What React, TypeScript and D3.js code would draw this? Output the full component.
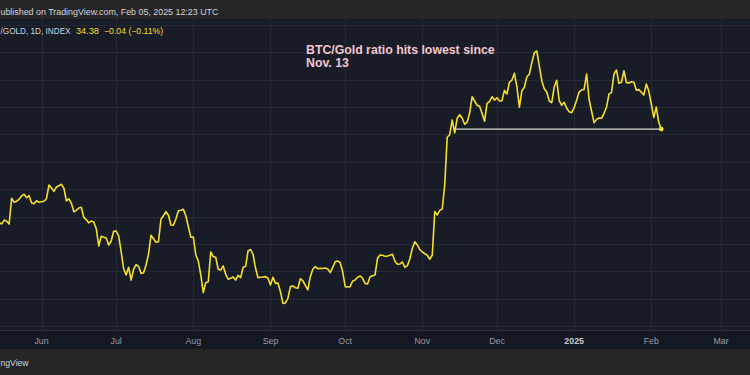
import React from 'react';
import * as d3 from 'd3';

// ---- Data (daily closes of BTC/GOLD index) ----
const seriesStart = [2024, 4, 15]; // 15 May 2024
const may = [27.55, 27.45, 27.74, 27.65, 27.45, 29.33, 29.04, 29.11, 29.26, 29.5, 29.62, 29.37, 29.52, 29.01, 28.93, 29.15, 29.04];
const jun = [29.08, 29.11, 29.3, 30.3, 30.08, 29.84, 30.15, 30.25, 30.35, 30.06, 29.15, 29.28, 28.96, 28.35, 28.45, 28.62, 28.67, 27.94, 27.77, 27.53, 27.67, 27.6, 27.11, 25.85, 26.55, 26.48, 26.43, 25.92, 26.21, 26.92];
const jul = [26.94, 26.58, 25.43, 24.19, 23.73, 24.29, 23.36, 24.15, 24.48, 24.36, 23.85, 23.9, 24.46, 25.26, 26.63, 26.38, 26.12, 26.16, 27.8, 28.06, 28.35, 28.09, 27.38, 27.36, 27.82, 28.42, 28.45, 28.53, 28.04, 27.26, 26.48];
const aug = [26.5, 25.19, 24.75, 23.73, 22.44, 23.17, 23.24, 25.41, 25.07, 25.02, 24.15, 24.09, 24.39, 23.78, 23.42, 23.49, 23.58, 23.36, 23.71, 23.53, 24.29, 24.36, 25.5, 25.58, 25.24, 24.22, 23.53, 23.56, 23.58, 23.61, 23.49];
const sep = [23.0, 23.56, 23.12, 23.15, 22.51, 21.66, 21.69, 22.03, 22.88, 22.93, 22.8, 22.76, 23.46, 23.31, 22.98, 22.64, 23.61, 24.15, 24.34, 24.19, 24.22, 24.2, 24.24, 24.17, 23.9, 24.29, 24.7, 24.75, 24.63, 23.97];
const oct = [22.88, 22.85, 22.88, 23.29, 23.36, 23.56, 23.66, 23.49, 23.12, 23.07, 23.61, 23.68, 23.73, 24.95, 25.19, 25.17, 25.09, 25.12, 25.17, 25.24, 24.73, 24.51, 24.53, 24.68, 24.29, 24.41, 24.92, 25.68, 26.16, 25.92, 25.58];
const nov = [25.41, 25.28, 25.17, 24.88, 25.19, 28.36, 28.11, 28.45, 28.55, 30.3, 33.78, 33.97, 35.04, 34.1, 35.17, 35.43, 35.19, 34.73, 34.88, 35.53, 36.74, 36.43, 36.12, 36.04, 35.53, 34.95, 36.26, 36.38, 36.74, 36.5];
const dec = [36.67, 36.43, 36.45, 37.21, 36.94, 37.8, 37.96, 38.45, 37.47, 35.97, 37.18, 37.43, 38.2, 38.38, 39.23, 39.96, 40.08, 38.99, 37.91, 37.33, 37.09, 36.43, 36.31, 37.47, 37.94, 36.45, 36.12, 36.34, 35.9, 35.65, 35.58];
const jan = [35.94, 36.48, 37.09, 37.23, 37.28, 38.4, 36.55, 35.7, 34.85, 35.09, 35.19, 35.17, 35.53, 35.97, 36.94, 37.04, 38.4, 38.69, 37.72, 37.8, 38.64, 37.77, 37.74, 37.84, 37.8, 37.21, 37.26, 37.07, 36.87, 37.67, 37.14];
const feb = [36.21, 35.22, 35.99, 34.86, 34.38];

const lastClose = '34.38';
const changeText = '\u22120.04 (\u22120.11%)';
const refLineStart = [2024, 10, 14];
const yGridValues = [20, 22, 24, 26, 28, 30, 32, 34, 36, 38, 40, 42];
const monthTicks = [[2024, 5, 1], [2024, 6, 1], [2024, 7, 1], [2024, 8, 1], [2024, 9, 1], [2024, 10, 1], [2024, 11, 1], [2025, 0, 1], [2025, 1, 1], [2025, 2, 1]];
const monthLabels = ['Jun', 'Jul', 'Aug', 'Sep', 'Oct', 'Nov', 'Dec', '2025', 'Feb', 'Mar'];
const annotationLines = ['BTC/Gold ratio hits lowest since', 'Nov. 13'];

const W = 750;
const H = 375;
const HEADER_H = 19;
const PLOT_BOTTOM = 330;
const AXIS_BOTTOM = 349;

const LINE_COLOR = '#f5df2c';
const BG = '#181c27';
const GRID = '#262a36';
const FONT = '"Liberation Sans", Arial, sans-serif';

export default function App() {
  const values = [...may, ...jun, ...jul, ...aug, ...sep, ...oct, ...nov, ...dec, ...jan, ...feb];
  const start = new Date(seriesStart[0], seriesStart[1], seriesStart[2]);
  const data = values.map((v, i) => ({ date: d3.timeDay.offset(start, i), value: v }));

  const ticks = monthTicks.map((t) => new Date(t[0], t[1], t[2]));
  const x = d3.scaleTime().domain([ticks[0], ticks[ticks.length - 1]]).range([41.5, 721]);
  const y = d3.scaleLinear().domain([20, 42]).range([326.1, 24.7]);

  const line = d3
    .line<{ date: Date; value: number }>()
    .x((d) => x(d.date))
    .y((d) => y(d.value));

  const last = data[data.length - 1];
  const refStart = new Date(refLineStart[0], refLineStart[1], refLineStart[2]);

  return (
    <svg
      width={W}
      height={H}
      viewBox={`0 0 ${W} ${H}`}
      style={{ position: 'absolute', left: 0, top: 0, display: 'block' }}
    >
      <defs>
        <clipPath id="plotClip">
          <rect x={0} y={HEADER_H} width={W} height={PLOT_BOTTOM - HEADER_H} />
        </clipPath>
      </defs>

      {/* backgrounds */}
      <rect x={0} y={0} width={W} height={HEADER_H} fill="#262626" />
      <rect x={0} y={HEADER_H} width={W} height={PLOT_BOTTOM - HEADER_H} fill={BG} />

      {/* grid */}
      {yGridValues.map((v) => (
        <line key={'h' + v} x1={0} x2={W} y1={Math.round(y(v)) + 0.5} y2={Math.round(y(v)) + 0.5} stroke={GRID} strokeWidth={1} />
      ))}
      {ticks.map((t, i) => (
        <line key={'v' + i} x1={Math.round(x(t)) + 0.5} x2={Math.round(x(t)) + 0.5} y1={HEADER_H} y2={PLOT_BOTTOM} stroke={GRID} strokeWidth={1} />
      ))}

      {/* time axis band */}
      <rect x={0} y={PLOT_BOTTOM} width={W} height={AXIS_BOTTOM - PLOT_BOTTOM} fill="#141823" />
      <line x1={0} x2={W} y1={PLOT_BOTTOM + 0.5} y2={PLOT_BOTTOM + 0.5} stroke="#2c303c" strokeWidth={1} />
      {ticks.map((t, i) => (
        <text
          key={'l' + i}
          x={x(t)}
          y={343.5}
          textAnchor="middle"
          fontFamily={FONT}
          fontSize={8.8}
          fontWeight={monthLabels[i] === '2025' ? 'bold' : 'normal'}
          fill={monthLabels[i] === '2025' ? '#c9ccd4' : '#9a9da6'}
        >
          {monthLabels[i]}
        </text>
      ))}

      {/* bottom bar */}
      <rect x={0} y={AXIS_BOTTOM} width={W} height={H - AXIS_BOTTOM} fill="#262626" />
      <text x={0.5} y={366} fontFamily={FONT} fontSize={8.6} fill="#d1d4dc">
        ngView
      </text>

      {/* header texts */}
      <text x={0.5} y={14.6} fontFamily={FONT} fontSize={8.9} fill="#d1d4dc">
        ublished on TradingView.com, Feb 05, 2025 12:23 UTC
      </text>
      <text x={0.5} y={34.3} fontFamily={FONT} fontSize={8.2} fill="#d1d4dc">
        /GOLD, 1D, INDEX
      </text>
      <text x={76} y={34.3} fontFamily={FONT} fontSize={9.1} fill={LINE_COLOR}>
        {lastClose}
      </text>
      <text x={104} y={34.3} fontFamily={FONT} fontSize={8.7} fill={LINE_COLOR}>
        {changeText}
      </text>

      {/* annotation */}
      {annotationLines.map((t, i) => (
        <text key={'a' + i} x={306} y={54.4 + i * 12.6} fontFamily={FONT} fontSize={12.3} fontWeight="bold" fill="#f3c6cd">
          {t}
        </text>
      ))}

      {/* series */}
      <g clipPath="url(#plotClip)">
        <path d={line(data) || ''} fill="none" stroke={LINE_COLOR} strokeWidth={1.6} strokeLinejoin="round" />
        <line
          x1={x(refStart)}
          x2={x(last.date)}
          y1={y(last.value)}
          y2={y(last.value)}
          stroke="#d6d6d6"
          strokeWidth={1.1}
        />
        <circle cx={x(last.date)} cy={y(last.value)} r={2.4} fill={LINE_COLOR} />
      </g>
    </svg>
  );
}
